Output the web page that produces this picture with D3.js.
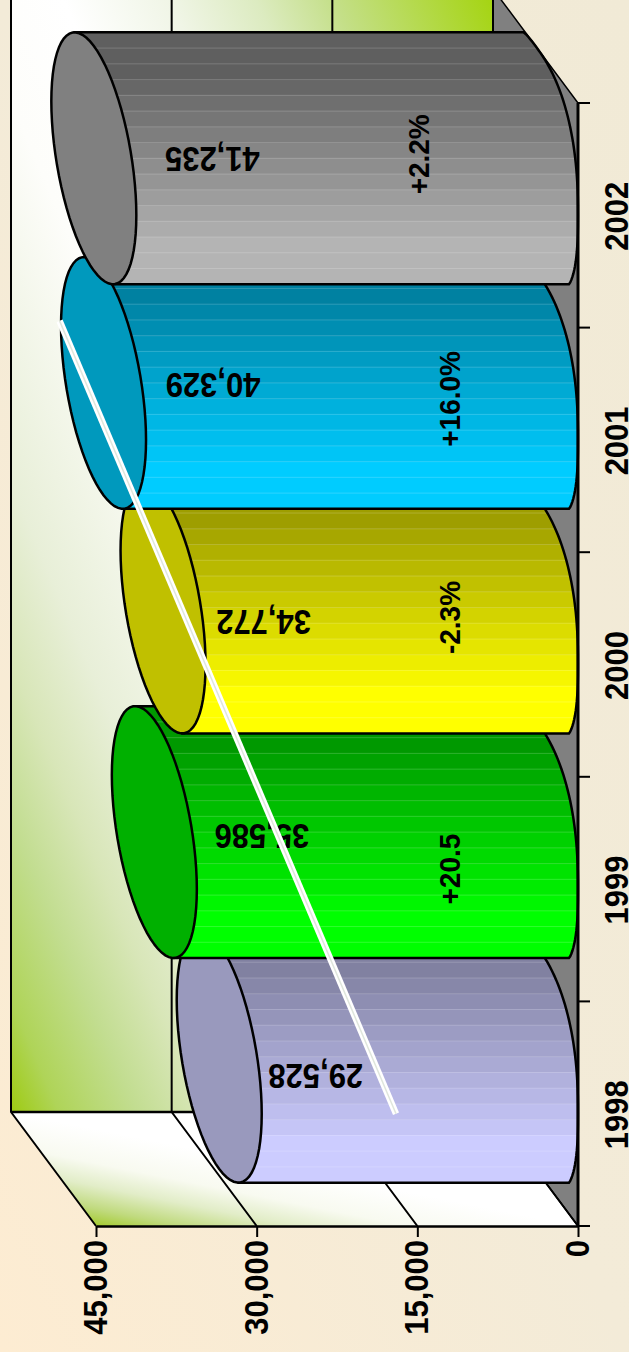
<!DOCTYPE html>
<html lang="en">
<head>
  <title>Cylinders</title>
  <meta charset="UTF-8">
  <script src="https://cdn.jsdelivr.net/npm/d3@7"></script>
  <style>
  html, body { margin: 0; padding: 0; overflow: hidden; }
  svg { display: block; }
  text { font-family: "Liberation Sans", Arial, sans-serif; font-weight: bold; fill: #000; }
  </style>
</head>
<body>
<script>
const years = ['1998', '1999', '2000', '2001', '2002'];
const values = [29528, 35586, 34772, 40329, 41235];
const valueLabels = ['29,528', '35,586', '34,772', '40,329', '41,235'];
const changeLabels = [null, '+20.5', '-2.3%', '+16.0%', '+2.2%'];
const valueTicks = [0, 15000, 30000, 45000];
const trendYears = [1998, 2001.53];
const trendValues = [16990, 48400];

const barColors = ['#ccccff', '#00ff00', '#ffff00', '#00ccff', '#b4b4b4'];
const capColors = ['#9999bd', '#00b000', '#c0c000', '#0099bd', '#808080'];
const topShade = [0.63, 0.6, 0.62, 0.63, 0.53];
// label nudges from the cylinder's end cap, px
const labelNudge = [[54, 20], [65, 5], [58, 15], [67, 3], [76, 1]];
const changeNudge = [null, [-86, 37], [-86, 10], [-86, 16], [-117, -4]];

const width = 629, height = 1352;
const depthX = -85, depthY = -114;

const x = d3.scaleLinear().domain([0, 45000]).range([578, 96]);
const y = d3.scaleBand().domain(years).range([1226, 103]);
const yearPos = d3.scaleLinear().domain([1998, 2002]).range([y('1998') + y.step() / 2, y('2002') + y.step() / 2]);

const svg = d3.select('body').append('svg').attr('width', width).attr('height', height);
const defs = svg.append('defs');

function gradient(id, dir, stops) {
  const g = defs.append('linearGradient').attr('id', id)
    .attr('x1', dir[0]).attr('y1', dir[1]).attr('x2', dir[2]).attr('y2', dir[3]);
  stops.forEach(s => g.append('stop').attr('offset', s[0]).attr('stop-color', s[1]));
}
gradient('pageBg', [0, 1, 1, 0], [[0, '#fdecd2'], [0.5, '#f3ebd8'], [1, '#f1ead6']]);
gradient('backWall', [1, 0, 0, 1], [
  [0, '#a4d40e'], [0.17, '#c4df88'], [0.25, '#dcebc0'], [0.34, '#f0f5e6'], [0.45, '#ffffff'],
  [0.55, '#fdfdfa'], [0.72, '#e8efd8'], [0.8, '#d8e6b8'], [0.87, '#c2dd90'], [0.95, '#afd458'], [1, '#9ecb12']
]);
gradient('sideWall', [0, 1, 1, 0], [
  [0.075, '#a4cb30'], [0.15, '#c0da7e'], [0.25, '#e2edc8'], [0.35, '#f8faf0'], [0.5, '#ffffff'], [1, '#ffffff']
]);

svg.append('rect').attr('width', width).attr('height', height).attr('fill', 'url(#pageBg)');

const x0 = x(0), yFront = y.range()[0], yEnd = y.range()[1];
const poly = pts => d3.line()(pts) + 'Z';

// walls and floor
svg.append('path')
  .attr('d', poly([[x(45000) + depthX, yFront + depthY], [x0 + depthX, yFront + depthY], [x0 + depthX, yEnd + depthY], [x(45000) + depthX, yEnd + depthY]]))
  .attr('fill', 'url(#backWall)');
svg.append('path')
  .attr('d', poly([[x(45000) + depthX, yFront + depthY], [x(45000), yFront], [x0, yFront], [x0 + depthX, yFront + depthY]]))
  .attr('fill', 'url(#sideWall)');
svg.append('path')
  .attr('d', poly([[x0, yFront], [x0 + depthX, yFront + depthY], [x0 + depthX, yEnd + depthY], [x0, yEnd]]))
  .attr('fill', '#808080').attr('stroke', '#000').attr('stroke-width', 1.5);

// grid on both walls
valueTicks.forEach(v => {
  svg.append('path')
    .attr('d', d3.line()([[x(v), yFront], [x(v) + depthX, yFront + depthY], [x(v) + depthX, yEnd + depthY]]))
    .attr('fill', 'none').attr('stroke', '#000').attr('stroke-width', 2);
});
svg.append('line').attr('x1', x(45000) + depthX).attr('x2', x0 + depthX)
  .attr('y1', yFront + depthY).attr('y2', yFront + depthY)
  .attr('stroke', '#000').attr('stroke-width', 2.5);

// cylinders
const halfDepthX = depthX / 2, halfDepthY = depthY / 2;
const halfBand = y.step() / 2;
const extent = Math.hypot(halfBand, halfDepthY);
const t0 = Math.atan2(halfDepthY, halfBand);

const ringPoint = (cx, cy, t) => [cx + halfDepthX * Math.sin(t), cy + halfBand * Math.cos(t) + halfDepthY * Math.sin(t)];

// the far end of the reference cylinders has squarer corners than a true ellipse
function basePoint(cx, cy, t) {
  const sq = v => Math.sign(v) * Math.pow(Math.abs(v), 0.8);
  const py = cy + halfBand * sq(Math.cos(t)) + halfDepthY * sq(Math.sin(t));
  return [cx + halfDepthX * sq(Math.sin(t)), Math.max(cy - extent, Math.min(cy + extent, py))];
}

years.forEach((year, i) => {
  const cy = y(year) + halfBand + halfDepthY;
  const capX = x(values[i]) + halfDepthX;
  const baseX = x0 + halfDepthX;

  const bands = 16;
  const dark = d3.rgb(barColors[i]);
  const shade = k => d3.rgb(dark.r * k, dark.g * k, dark.b * k).formatHex();
  const grad = defs.append('linearGradient').attr('id', 'body' + i)
    .attr('gradientUnits', 'userSpaceOnUse')
    .attr('x1', 0).attr('x2', 0).attr('y1', cy - extent).attr('y2', cy + extent);
  const bandYs = [];
  d3.range(bands).forEach(b => {
    const k = topShade[i] + (1 - topShade[i]) * Math.max(0, Math.min(1, (b - 2) / (bands - 5)));
    grad.append('stop').attr('offset', b / bands).attr('stop-color', shade(k));
    grad.append('stop').attr('offset', (b + 1) / bands).attr('stop-color', shade(k));
    if (b > 0) bandYs.push(cy - extent + 2 * extent * b / bands);
  });

  const baseArc = d3.range(0, 61).map(s => basePoint(baseX, cy, t0 - Math.PI * s / 60));
  const body = [ringPoint(capX, cy, t0)].concat(baseArc, [ringPoint(capX, cy, t0 - Math.PI)]);
  const bodyPath = poly(body);

  defs.append('clipPath').attr('id', 'clip' + i).append('path').attr('d', bodyPath);
  svg.append('path').attr('d', bodyPath).attr('fill', `url(#body${i})`);
  svg.append('g').attr('clip-path', `url(#clip${i})`)
    .selectAll('line').data(bandYs).join('line')
    .attr('x1', capX).attr('x2', x0).attr('y1', d => d).attr('y2', d => d)
    .attr('stroke', '#fff').attr('stroke-opacity', 0.18).attr('stroke-width', 1);
  svg.append('path').attr('d', bodyPath).attr('fill', 'none').attr('stroke', '#000').attr('stroke-width', 2.5);

  const cap = d3.range(0, 72).map(s => ringPoint(capX, cy, 2 * Math.PI * s / 72));
  svg.append('path').attr('d', poly(cap)).attr('fill', capColors[i]).attr('stroke', '#000').attr('stroke-width', 2.5);
});

function label(str, px, py, size, rot, sx, sy) {
  svg.append('text')
    .attr('transform', `translate(${px},${py}) rotate(${rot}) scale(${sx},${sy})`)
    .attr('text-anchor', 'middle').attr('dy', '0.36em')
    .attr('font-size', size).text(str);
}

// labels on the cylinders
years.forEach((year, i) => {
  const cy = y(year) + halfBand + halfDepthY;
  label(valueLabels[i], x(values[i]) + labelNudge[i][0], cy + labelNudge[i][1], 31, 180, 1, 1.13);
  if (changeLabels[i]) {
    label(changeLabels[i], x(0) + changeNudge[i][0] - 43, cy + changeNudge[i][1], 28, -90, 1, 1.08);
  }
});

// trend line
const trendPts = trendYears.map((yr, i) => [x(trendValues[i]), yearPos(yr)]);
svg.append('path').attr('d', d3.line()(trendPts)).attr('fill', 'none').attr('stroke', '#fff').attr('stroke-width', 6.5);
svg.append('path').attr('d', d3.line()(trendPts)).attr('fill', 'none').attr('stroke', '#dfe6dc').attr('stroke-width', 1.5);

// axes
const valueAxis = svg.append('g').attr('transform', `translate(0,${yFront})`)
  .call(d3.axisBottom(x).tickValues(valueTicks).tickSize(11).tickSizeOuter(0).tickFormat(''));
valueAxis.select('.domain').attr('stroke-width', 2.5);
valueAxis.selectAll('.tick line').attr('stroke-width', 2);
valueTicks.forEach(v => {
  svg.append('text')
    .attr('transform', `translate(${x(v) + 11},${yFront + 14}) rotate(-90) scale(1,1.06)`)
    .attr('text-anchor', 'end').attr('font-size', 31).text(d3.format(',')(v));
});

svg.append('line').attr('x1', x0).attr('x2', x0).attr('y1', yEnd).attr('y2', yFront)
  .attr('stroke', '#000').attr('stroke-width', 3);
const yearEdges = y.domain().map(d => y(d) + y.step()).concat([yEnd]);
svg.selectAll('.year-tick').data(yearEdges).join('line').attr('class', 'year-tick')
  .attr('x1', x0).attr('x2', x0 + 12).attr('y1', d => d).attr('y2', d => d)
  .attr('stroke', '#000').attr('stroke-width', 2);
years.forEach(year => {
  svg.append('text')
    .attr('transform', `translate(${x0 + 50},${y(year) + halfBand + 1}) rotate(-90) scale(1,1.08)`)
    .attr('text-anchor', 'middle').attr('font-size', 31).text(year);
});
</script>
</body>
</html>
